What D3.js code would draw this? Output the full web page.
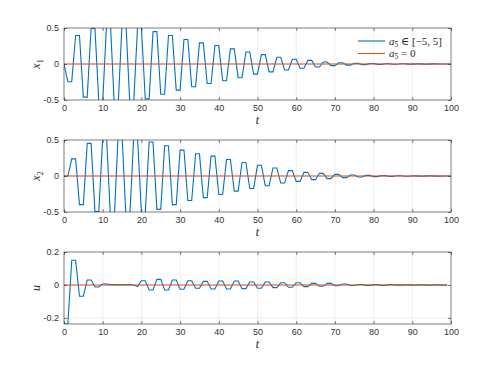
<!DOCTYPE html>
<html>
<head>
<meta charset="utf-8">
<script src="https://cdn.jsdelivr.net/npm/d3@7"></script>
<style>
  body { margin: 0; background: #fff; }
  svg { display: block; }
  .tick text { font-family: "Liberation Sans", Helvetica, Arial, sans-serif; font-size: 9px; fill: #333; }
  .tick line { stroke: #262626; stroke-width: 0.6; }
</style>
</head>
<body>
<svg id="chart" width="498" height="374"></svg>
<script>
// sample instants
const t = d3.range(0, 101);

// x1 with a5 in [-5,5]  (t = 0..100)
const x1Var = [
  0, -0.246, -0.246, 0.395, 0.395, -0.46, -0.46, 0.493, 0.493, -0.53,
  -0.53, 0.56, 0.56, -0.57, -0.57, 0.56, 0.56, -0.54, -0.54, 0.51,
  0.51, -0.484, -0.484, 0.45, 0.45, -0.42, -0.42, 0.395, 0.395, -0.363,
  -0.363, 0.34, 0.34, -0.316, -0.316, 0.293, 0.293, -0.27, -0.27, 0.256,
  0.256, -0.233, -0.233, 0.21, 0.21, -0.19, -0.19, 0.167, 0.167, -0.14,
  -0.14, 0.13, 0.13, -0.11, -0.11, 0.093, 0.093, -0.083, -0.083, 0.065,
  0.065, -0.06, -0.06, 0.05, 0.05, -0.042, -0.042, 0.028, 0.028, -0.023,
  -0.023, 0.018, 0.018, -0.015, -0.015, 0.01, 0.01, -0.008, -0.008, 0.006,
  0.006, -0.005, -0.005, 0.004, 0.004, -0.003, -0.003, 0.003, 0.003, -0.002,
  -0.002, 0.002, 0.002, -0.002, -0.002, 0.002, 0.002, -0.001, -0.001, 0.001,
  0.001
];

// x2 with a5 in [-5,5]  (t = 0..100)
const x2Var = [
  0, 0, 0.238, 0.238, -0.397, -0.397, 0.453, 0.453, -0.495, -0.495,
  0.54, 0.54, -0.57, -0.57, 0.57, 0.57, -0.56, -0.56, 0.53, 0.53,
  -0.51, -0.51, 0.472, 0.472, -0.463, -0.463, 0.42, 0.42, -0.397, -0.397,
  0.36, 0.36, -0.34, -0.34, 0.31, 0.31, -0.30, -0.30, 0.276, 0.276,
  -0.257, -0.257, 0.229, 0.229, -0.21, -0.21, 0.187, 0.187, -0.173, -0.173,
  0.15, 0.15, -0.135, -0.135, 0.112, 0.112, -0.098, -0.098, 0.075, 0.075,
  -0.075, -0.075, 0.051, 0.051, -0.051, -0.051, 0.037, 0.037, -0.037, -0.037,
  0.023, 0.023, -0.023, -0.023, 0.014, 0.014, -0.014, -0.014, 0.008, 0.008,
  -0.008, -0.008, 0.005, 0.005, -0.005, -0.005, 0.003, 0.003, -0.003, -0.003,
  0.002, 0.002, -0.002, -0.002, 0.002, 0.002, -0.002, -0.002, 0.001, 0.001,
  -0.001
];

// u with a5 in [-5,5]  (t = 0..99)
const uVar = [
  -0.236, -0.236, 0.15, 0.15, -0.068, -0.068, 0.03, 0.03, -0.012, -0.012,
  0.006, 0.006, 0.002, 0.002, 0.001, 0.002, 0.002, 0.002, 0, -0.01,
  0.026, 0.026, -0.03, -0.03, 0.034, 0.034, -0.03, -0.03, 0.03, 0.03,
  -0.026, -0.026, 0.026, 0.026, -0.02, -0.02, 0.022, 0.022, -0.024, -0.024,
  0.024, 0.024, -0.024, -0.024, 0.024, 0.024, -0.022, -0.022, 0.018, 0.018,
  -0.02, -0.02, 0.018, 0.018, -0.016, -0.016, 0.014, 0.014, -0.014, -0.014,
  0.014, 0.014, -0.01, -0.01, 0.01, 0.01, -0.008, -0.008, 0.01, 0.01,
  -0.005, -0.005, 0.006, 0.006, -0.003, -0.003, 0.003, 0.003, -0.002, -0.002,
  0.002, 0.002, -0.002, -0.002, 0.002, 0.002, -0.001, -0.001, 0.001, 0.001,
  -0.001, -0.001, 0.001, 0.001, -0.001, -0.001, 0.001, 0.001, -0.001, -0.001
];

// nominal case a5 = 0 : everything stays at zero
const x1Nom = [
  0, 0, 0, 0, 0, 0, 0, 0, 0, 0, 0, 0, 0, 0, 0, 0, 0, 0, 0, 0,
  0, 0, 0, 0, 0, 0, 0, 0, 0, 0, 0, 0, 0, 0, 0, 0, 0, 0, 0, 0,
  0, 0, 0, 0, 0, 0, 0, 0, 0, 0, 0, 0, 0, 0, 0, 0, 0, 0, 0, 0,
  0, 0, 0, 0, 0, 0, 0, 0, 0, 0, 0, 0, 0, 0, 0, 0, 0, 0, 0, 0,
  0, 0, 0, 0, 0, 0, 0, 0, 0, 0, 0, 0, 0, 0, 0, 0, 0, 0, 0, 0, 0
];
const x2Nom = x1Nom.slice();
const uNom = x1Nom.slice(0, 100);

const xTicks = [0, 10, 20, 30, 40, 50, 60, 70, 80, 90, 100];
const x12Ticks = [-0.5, 0, 0.5];
const uTicks = [-0.2, 0, 0.2];

const colors = { var: '#0072BD', nom: '#D95319' };
const mathFont = '"Liberation Serif", "DejaVu Serif", "Times New Roman", serif';

const panels = [
  { name: 'x', sub: '1', top: 28, domain: [-0.5, 0.5], ticks: x12Ticks, series: [x1Var, x1Nom] },
  { name: 'x', sub: '2', top: 140, domain: [-0.5, 0.5], ticks: x12Ticks, series: [x2Var, x2Nom] },
  { name: 'u', sub: null, top: 252, domain: [-0.2364, 0.2], ticks: uTicks, series: [uVar, uNom] }
];

const left = 64, right = 451, ph = 72;
const svg = d3.select('#chart');

const x = d3.scaleLinear().domain([0, 100]).range([left, right]);

panels.forEach((p, i) => {
  const y = d3.scaleLinear().domain(p.domain).range([p.top + ph, p.top]);
  const g = svg.append('g');

  // grid
  g.append('g').selectAll('line').data(xTicks.slice(1, -1)).join('line')
    .attr('x1', d => x(d)).attr('x2', d => x(d))
    .attr('y1', p.top).attr('y2', p.top + ph)
    .attr('stroke', '#e3e3e3').attr('stroke-width', 0.6);
  g.append('g').selectAll('line').data(p.ticks.filter(d => y(d) > p.top + 1 && y(d) < p.top + ph - 1)).join('line')
    .attr('x1', left).attr('x2', right)
    .attr('y1', d => y(d)).attr('y2', d => y(d))
    .attr('stroke', '#e3e3e3').attr('stroke-width', 0.6);

  // lines, clipped to the axes box
  const clipId = 'clip' + i;
  svg.append('clipPath').attr('id', clipId).append('rect')
    .attr('x', left).attr('y', p.top).attr('width', right - left).attr('height', ph);

  const line = d3.line().x((d, j) => x(t[j])).y(d => y(d));
  const lg = g.append('g').attr('clip-path', 'url(#' + clipId + ')');
  lg.append('path').datum(p.series[0]).attr('d', line)
    .attr('fill', 'none').attr('stroke', colors.var).attr('stroke-width', 1.1);
  lg.append('path').datum(p.series[1]).attr('d', line)
    .attr('fill', 'none').attr('stroke', colors.nom).attr('stroke-width', 1.1);

  // axes, MATLAB style: inward ticks on all sides
  g.append('g').attr('transform', 'translate(0,' + (p.top + ph) + ')')
    .call(d3.axisBottom(x).tickValues(xTicks).tickSize(-3).tickPadding(5).tickFormat(d3.format('d')))
    .call(a => a.select('.domain').remove());
  g.append('g').attr('transform', 'translate(0,' + p.top + ')')
    .call(d3.axisTop(x).tickValues(xTicks).tickSize(-3).tickFormat(''))
    .call(a => a.select('.domain').remove());
  g.append('g').attr('transform', 'translate(' + left + ',0)')
    .call(d3.axisLeft(y).tickValues(p.ticks).tickSize(-3).tickPadding(5).tickFormat(d => String(d)))
    .call(a => a.select('.domain').remove());
  g.append('g').attr('transform', 'translate(' + right + ',0)')
    .call(d3.axisRight(y).tickValues(p.ticks).tickSize(-3).tickFormat(''))
    .call(a => a.select('.domain').remove());

  g.append('rect').attr('x', left).attr('y', p.top).attr('width', right - left).attr('height', ph)
    .attr('fill', 'none').attr('stroke', '#262626').attr('stroke-width', 0.6);

  // x label
  g.append('text').attr('x', x(50)).attr('y', p.top + ph + 24)
    .attr('font-family', mathFont).attr('fill', '#262626')
    .attr('text-anchor', 'middle').attr('font-size', 12).attr('font-style', 'italic').text('t');

  // y label
  const yl = g.append('text')
    .attr('font-family', mathFont).attr('fill', '#262626')
    .attr('transform', 'translate(40,' + (p.top + ph / 2) + ') rotate(-90)')
    .attr('text-anchor', 'middle').attr('font-size', 12);
  yl.append('tspan').attr('font-style', 'italic').text(p.name);
  if (p.sub) yl.append('tspan').attr('font-size', 8).attr('dy', 2.5).text(p.sub);
});

// legend (no box)
const legend = svg.append('g');
[colors.var, colors.nom].forEach((c, i) => {
  const ly = 41 + i * 12.5;
  legend.append('line').attr('x1', 358).attr('x2', 385).attr('y1', ly).attr('y2', ly)
    .attr('stroke', c).attr('stroke-width', 1.1);
  const tx = legend.append('text').attr('x', 389).attr('y', ly + 3.5)
    .attr('font-family', mathFont).attr('fill', '#262626').attr('font-size', 11);
  tx.append('tspan').attr('font-style', 'italic').text('a');
  tx.append('tspan').attr('font-size', 7.5).attr('dy', 2).text('5');
  tx.append('tspan').attr('dy', -2).text(i === 0 ? ' \u2208 [\u22125, 5]' : ' = 0');
});
</script>
</body>
</html>
